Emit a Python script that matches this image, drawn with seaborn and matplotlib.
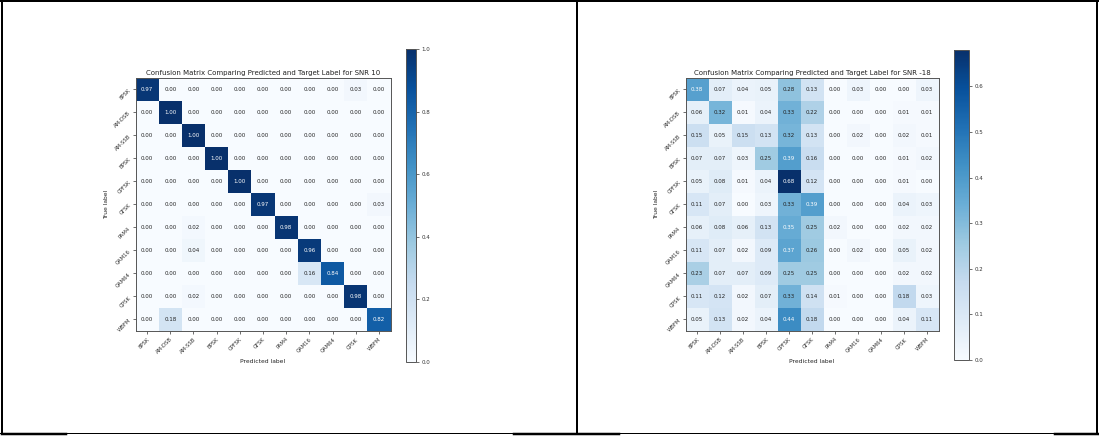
import numpy as np
import matplotlib
matplotlib.use("Agg")
import matplotlib.pyplot as plt
from matplotlib.lines import Line2D
import seaborn as sns

# Modulation classes (rows = true label, columns = predicted label)
classes = ["8PSK", "AM-DSB", "AM-SSB", "BPSK", "CPFSK", "GFSK",
           "PAM4", "QAM16", "QAM64", "QPSK", "WBFM"]

# Normalised confusion matrix at SNR 10
cm_snr_10 = [
    [0.97, 0.00, 0.00, 0.00, 0.00, 0.00, 0.00, 0.00, 0.00, 0.03, 0.00],
    [0.00, 1.00, 0.00, 0.00, 0.00, 0.00, 0.00, 0.00, 0.00, 0.00, 0.00],
    [0.00, 0.00, 1.00, 0.00, 0.00, 0.00, 0.00, 0.00, 0.00, 0.00, 0.00],
    [0.00, 0.00, 0.00, 1.00, 0.00, 0.00, 0.00, 0.00, 0.00, 0.00, 0.00],
    [0.00, 0.00, 0.00, 0.00, 1.00, 0.00, 0.00, 0.00, 0.00, 0.00, 0.00],
    [0.00, 0.00, 0.00, 0.00, 0.00, 0.97, 0.00, 0.00, 0.00, 0.00, 0.03],
    [0.00, 0.00, 0.02, 0.00, 0.00, 0.00, 0.98, 0.00, 0.00, 0.00, 0.00],
    [0.00, 0.00, 0.04, 0.00, 0.00, 0.00, 0.00, 0.96, 0.00, 0.00, 0.00],
    [0.00, 0.00, 0.00, 0.00, 0.00, 0.00, 0.00, 0.16, 0.84, 0.00, 0.00],
    [0.00, 0.00, 0.02, 0.00, 0.00, 0.00, 0.00, 0.00, 0.00, 0.98, 0.00],
    [0.00, 0.18, 0.00, 0.00, 0.00, 0.00, 0.00, 0.00, 0.00, 0.00, 0.82],
]

# Normalised confusion matrix at SNR -18
cm_snr_m18 = [
    [0.38, 0.07, 0.04, 0.05, 0.28, 0.13, 0.00, 0.03, 0.00, 0.00, 0.03],
    [0.06, 0.32, 0.01, 0.04, 0.33, 0.22, 0.00, 0.00, 0.00, 0.01, 0.01],
    [0.15, 0.05, 0.15, 0.13, 0.32, 0.13, 0.00, 0.02, 0.00, 0.02, 0.01],
    [0.07, 0.07, 0.03, 0.25, 0.39, 0.16, 0.00, 0.00, 0.00, 0.01, 0.02],
    [0.05, 0.08, 0.01, 0.04, 0.68, 0.12, 0.00, 0.00, 0.00, 0.01, 0.00],
    [0.11, 0.07, 0.00, 0.03, 0.33, 0.39, 0.00, 0.00, 0.00, 0.04, 0.03],
    [0.06, 0.08, 0.06, 0.13, 0.35, 0.25, 0.02, 0.00, 0.00, 0.02, 0.02],
    [0.11, 0.07, 0.02, 0.09, 0.37, 0.26, 0.00, 0.02, 0.00, 0.05, 0.02],
    [0.23, 0.07, 0.07, 0.09, 0.25, 0.25, 0.00, 0.00, 0.00, 0.02, 0.02],
    [0.11, 0.12, 0.02, 0.07, 0.33, 0.14, 0.01, 0.00, 0.00, 0.18, 0.03],
    [0.05, 0.13, 0.02, 0.04, 0.44, 0.18, 0.00, 0.00, 0.00, 0.04, 0.11],
]

snr_titles = ["Confusion Matrix Comparing Predicted and Target Label for SNR 10",
              "Confusion Matrix Comparing Predicted and Target Label for SNR -18"]
cbar_ticks = [[0.0, 0.2, 0.4, 0.6, 0.8, 1.0],
              [0.0, 0.1, 0.2, 0.3, 0.4, 0.5, 0.6]]

W, H = 1099, 436
fig = plt.figure(figsize=(W / 100, H / 100), dpi=100)
plt.rcParams["font.family"] = ["DejaVu Sans"]


def px_box(x0, y0, x1, y1):
    """Axes rectangle in figure fractions from pixel corners (top-left origin)."""
    return [x0 / W, 1 - y1 / H, (x1 - x0) / W, (y1 - y0) / H]


panels = [
    dict(data=cm_snr_10, ax=(135.5, 78, 390.5, 331), cb=(406, 49, 416, 362),
         title=snr_titles[0], ticks=cbar_ticks[0]),
    dict(data=cm_snr_m18, ax=(685.5, 78, 938.5, 331), cb=(954, 50, 969, 360),
         title=snr_titles[1], ticks=cbar_ticks[1]),
]

edge = "#555555"
for p in panels:
    data = np.array(p["data"])
    ax = fig.add_axes(px_box(*p["ax"]))
    cax = fig.add_axes(px_box(*p["cb"]))
    sns.heatmap(data, ax=ax, cbar_ax=cax, cmap="Blues", vmin=0, vmax=data.max(),
                annot=True, fmt=".2f", annot_kws={"fontsize": 4},
                xticklabels=classes, yticklabels=classes, square=False)
    thresh = data.max() / 2.0
    for txt, v in zip(ax.texts, data.flat):
        txt.set_color("white" if v > thresh else "#222222")
    for s in ax.spines.values():
        s.set_visible(True)
        s.set_linewidth(0.7)
        s.set_edgecolor(edge)
    ax.set_title(p["title"], fontsize=5, pad=2.5, color="#222222")
    ax.set_xlabel("Predicted label", fontsize=4.3, labelpad=3, color="#222222")
    ax.set_ylabel("True label", fontsize=4.3, labelpad=3, color="#222222")
    ax.tick_params(axis="both", length=2.5, width=0.6, color=edge,
                   labelsize=3.8, labelcolor="#333333", pad=1.5)
    plt.setp(ax.get_xticklabels(), rotation=45, ha="right", rotation_mode="anchor")
    plt.setp(ax.get_yticklabels(), rotation=45, ha="right", va="center",
             rotation_mode="anchor")

    cb = ax.collections[0].colorbar
    cb.set_ticks(p["ticks"])
    cb.set_ticklabels([f"{t:.1f}" for t in p["ticks"]])
    cb.outline.set_linewidth(0.7)
    cb.outline.set_edgecolor(edge)
    cax.tick_params(length=2.5, width=0.6, color=edge, labelsize=4,
                    labelcolor="#333333", pad=1.5)

# Table frame around the two panels
frame = [
    ([0, W], [1.5, 1.5], 2.0),
    ([2, 2], [0, 434], 2.0),
    ([577, 577], [0, 434], 2.0),
    ([1097, 1097], [0, 434], 2.0),
    ([0, W], [433, 433], 1.0),
    ([2, 66], [433.5, 433.5], 2.5),
    ([514, 619], [433.5, 433.5], 2.5),
    ([1055, W], [433.5, 433.5], 2.5),
]
for xs, ys, lw in frame:
    fig.add_artist(Line2D([x / W for x in xs], [1 - y / H for y in ys],
                          transform=fig.transFigure, color="black", linewidth=lw * 0.72))

fig.savefig("out.png", dpi=100, facecolor="white")
